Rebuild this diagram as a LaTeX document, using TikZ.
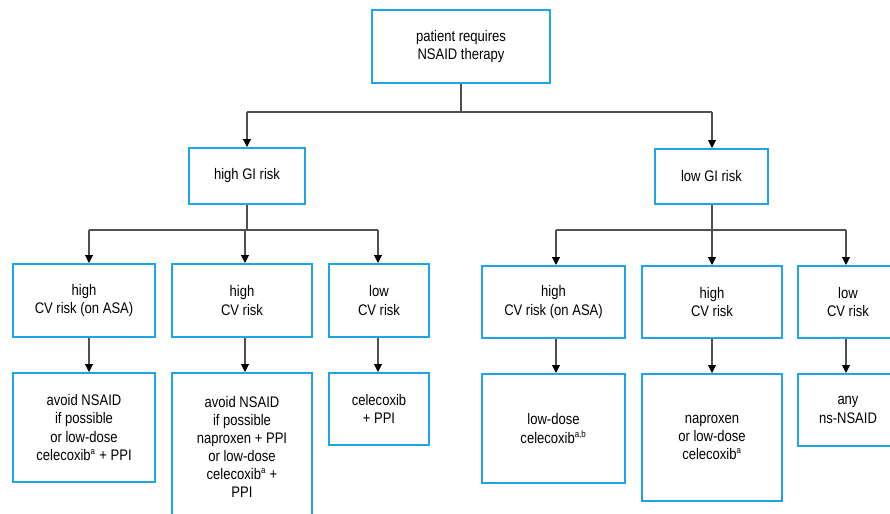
\documentclass[tikz,border=0pt]{standalone}
\usepackage{fontspec}
\setmainfont{Liberation Sans}[FakeStretch=0.85]
\usetikzlibrary{arrows.meta}
\definecolor{boxblue}{RGB}{30,165,228}
\definecolor{linegray}{RGB}{80,80,80}
\tikzset{
  box/.style={draw=boxblue, line width=1.5pt, fill=white, align=center,
    inner sep=0pt, font=\fontsize{11.5}{13.6}\selectfont},
  conn/.style={draw=linegray, line width=0.8pt},
  arr/.style={conn, -{Triangle[length=6pt,width=6pt,fill=black,color=black]}},
}
\newcommand{\supa}[1]{\textsuperscript{\scriptsize #1}}
\begin{document}
\begin{tikzpicture}[x=0.75pt,y=-0.75pt]
\clip (0,0) rectangle (890,514);
\fill[white] (0,0) rectangle (890,514);
% nodes
\node[box, minimum width=178*0.75pt, minimum height=73*0.75pt] (top) at (461,46.5) {patient requires\\NSAID therapy};
\node[box, minimum width=116*0.75pt, minimum height=56*0.75pt] (hgi) at (247,176) {high GI risk};
\node[box, minimum width=113*0.75pt, minimum height=55*0.75pt] (lgi) at (711.5,176.5) {low GI risk};
% row 3
\node[box, minimum width=142*0.75pt, minimum height=73*0.75pt] (b1) at (84,300.5) {high\\CV risk (on ASA)};
\node[box, minimum width=140*0.75pt, minimum height=73*0.75pt] (b2) at (242,300.5) {high\\CV risk};
\node[box, minimum width=100*0.75pt, minimum height=73*0.75pt] (b3) at (379,300.5) {low\\CV risk};
\node[box, minimum width=143*0.75pt, minimum height=72*0.75pt] (b4) at (553.5,302) {high\\CV risk (on ASA)};
\node[box, minimum width=140*0.75pt, minimum height=72*0.75pt] (b5) at (712,302) {high\\CV risk};
\node[box, minimum width=100*0.75pt, minimum height=72*0.75pt] (b6) at (848,302) {low\\CV risk};
% row 4
\node[box, minimum width=142*0.75pt, minimum height=109*0.75pt] (d1) at (84,427.5) {avoid NSAID\\if possible\\or low-dose\\celecoxib\supa{a} + PPI};
\node[box, minimum width=140*0.75pt, minimum height=148*0.75pt] (d2) at (242,447) {avoid NSAID\\if possible\\naproxen + PPI\\or low-dose\\celecoxib\supa{a} +\\PPI};
\node[box, minimum width=100*0.75pt, minimum height=72*0.75pt] (d3) at (379,409) {celecoxib\\+ PPI};
\node[box, minimum width=143*0.75pt, minimum height=109*0.75pt] (d4) at (553.5,428.5) {low-dose\\celecoxib\supa{a,b}};
\node[box, minimum width=140*0.75pt, minimum height=127*0.75pt] (d5) at (712,437.5) {naproxen\\or low-dose\\celecoxib\supa{a}};
\node[box, minimum width=100*0.75pt, minimum height=72*0.75pt] (d6) at (848,410) {any\\ns-NSAID};
% coordinates
\coordinate (t1) at (461,112);
\coordinate (l1) at (247,112);
\coordinate (r1) at (712,112);
\coordinate (hl) at (247,230);
\coordinate (c1) at (89,230);
\coordinate (c2) at (245,230);
\coordinate (c3) at (378,230);
\coordinate (rl) at (712,230);
\coordinate (c4) at (556,230);
\coordinate (c5) at (712,230);
\coordinate (c6) at (846,230);
% connectors
\draw[conn] (top.south) -- (t1);
\draw[conn] (l1) -- (r1);
\draw[arr] (l1) -- (l1 |- hgi.north);
\draw[arr] (r1) -- (r1 |- lgi.north);
\draw[conn] (hgi.south -| hl) -- (hl);
\draw[conn] (c1) -- (c3);
\draw[arr] (c1) -- (c1 |- b1.north);
\draw[arr] (c2) -- (c2 |- b2.north);
\draw[arr] (c3) -- (c3 |- b3.north);
\draw[conn] (lgi.south -| rl) -- (rl);
\draw[conn] (c4) -- (c6);
\draw[arr] (c4) -- (c4 |- b4.north);
\draw[arr] (c5) -- (c5 |- b5.north);
\draw[arr] (c6) -- (c6 |- b6.north);
\draw[arr] (c1 |- b1.south) -- (c1 |- d1.north);
\draw[arr] (c2 |- b2.south) -- (c2 |- d2.north);
\draw[arr] (c3 |- b3.south) -- (c3 |- d3.north);
\draw[arr] (c4 |- b4.south) -- (c4 |- d4.north);
\draw[arr] (c5 |- b5.south) -- (c5 |- d5.north);
\draw[arr] (c6 |- b6.south) -- (c6 |- d6.north);
\end{tikzpicture}
\end{document}
